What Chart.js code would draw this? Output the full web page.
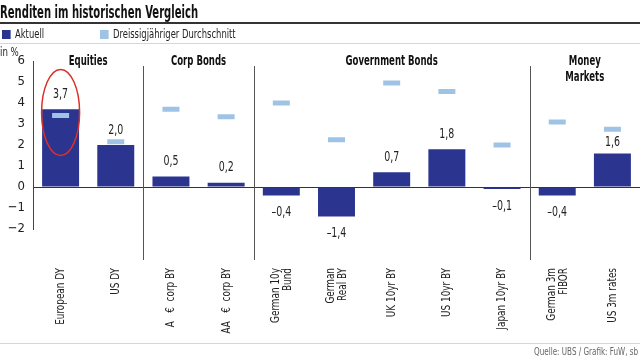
<!DOCTYPE html>
<html>
<head>
<meta charset="utf-8">
<script src="https://cdn.jsdelivr.net/npm/chart.js@4.4.1/dist/chart.umd.min.js"></script>
<style>
  body { margin: 0; background: #fff; font-family: "Liberation Sans Narrow", "DejaVu Sans Condensed", "Open Sans", sans-serif; color: #222; }
  #wrap { position: relative; width: 640px; height: 360px; overflow: hidden; }
  #chart { position: absolute; left: 0; top: 0; }
  .cond { position: absolute; white-space: nowrap; transform-origin: 0 0; }
  .title { left: 0; top: 1px; font-size: 18px; font-weight: bold; color: #111; transform: scaleX(0.62); }
  .rule1 { position: absolute; left: 0; top: 22px; width: 640px; height: 2px; background: #333; }
  .legend { top: 27px; font-size: 13px; color: #222; line-height: 14px; transform: scaleX(0.72); }
  .legend span.sw { display: inline-block; width: 12px; height: 9px; margin-right: 6px; vertical-align: -1px; }
  .rule2 { position: absolute; left: 0; top: 43px; width: 640px; height: 1px; background: #d6d6d6; }
  .unit { left: 0; top: 45px; font-size: 12px; transform: scaleX(0.8); }
  .rule3 { position: absolute; left: 0; top: 343px; width: 640px; height: 1px; background: #d6d6d6; }
  .source { right: 2px; top: 346px; font-size: 10px; color: #666; transform: scaleX(0.8); transform-origin: 100% 0; }
</style>
</head>
<body>
<div id="wrap">
  <canvas id="chart" width="640" height="360"></canvas>
  <div class="cond title">Renditen im historischen Vergleich</div>
  <div class="rule1"></div>
  <div class="cond legend" style="left:2px"><span class="sw" style="background:#2b3590"></span>Aktuell</div>
  <div class="cond legend" style="left:100px"><span class="sw" style="background:#9fc3e5"></span>Dreissigjähriger Durchschnitt</div>
  <div class="rule2"></div>
  <div class="cond unit">in %</div>
  <div class="rule3"></div>
  <div class="cond source">Quelle: UBS / Grafik: FuW, sb</div>
</div>
<script>
// Data
const categories = [
  'European DY', 'US DY', 'A   €  corp BY', 'AA   €  corp BY', ['German 10y', 'Bund'],
  ['German', 'Real BY'], 'UK 10yr BY', 'US 10yr BY', 'Japan 10yr BY', ['German 3m', 'FIBOR'], 'US 3m rates'
];
const current = [3.7, 2.0, 0.5, 0.2, -0.4, -1.4, 0.7, 1.8, -0.1, -0.4, 1.6];
const average30y = [3.4, 2.15, 3.7, 3.35, 4.0, 2.25, 4.95, 4.55, 2.0, 3.1, 2.75];
const yTicks = [-2, -1, 0, 1, 2, 3, 4, 5, 6];
const groups = [
  { name: ['Equities'], from: 0, to: 1 },
  { name: ['Corp Bonds'], from: 2, to: 3 },
  { name: ['Government Bonds'], from: 4, to: 8 },
  { name: ['Money', 'Markets'], from: 9, to: 10 }
];
const highlightIndex = 0;

const FONT = '"Liberation Sans Narrow", "DejaVu Sans Condensed", "Open Sans", sans-serif';
const fmt = v => (v < 0 ? '–' : '') + Math.abs(v).toFixed(1).replace('.', ',');

// text squeezed horizontally, like the condensed font of the original
function condText(ctx, text, x, y, sx, rot) {
  ctx.save();
  ctx.translate(x, y);
  if (rot) ctx.rotate(rot);
  ctx.scale(sx, 1);
  ctx.fillText(text, 0, 0);
  ctx.restore();
}

// separators, group headers, value labels, category labels, red ellipse
const decorations = {
  id: 'decorations',
  afterDatasetsDraw(chart) {
    const ctx = chart.ctx;
    const x = chart.scales.x, y = chart.scales.y;
    ctx.save();

    // group separators
    ctx.strokeStyle = '#555';
    ctx.lineWidth = 1;
    groups.slice(0, -1).forEach(g => {
      const px = Math.round((x.getPixelForValue(g.to) + x.getPixelForValue(g.to + 1)) / 2) + 0.5;
      ctx.beginPath();
      ctx.moveTo(px, 66);
      ctx.lineTo(px, 260);
      ctx.stroke();
    });

    // group headers
    ctx.fillStyle = '#111';
    ctx.font = 'bold 14px ' + FONT;
    ctx.textAlign = 'center';
    ctx.textBaseline = 'middle';
    groups.forEach(g => {
      const cx = (x.getPixelForValue(g.from) + x.getPixelForValue(g.to)) / 2;
      g.name.forEach((line, i) => condText(ctx, line, cx, 61 + i * 16, 0.68));
    });

    // value labels (moved under the average dash when they would collide)
    ctx.font = '14px ' + FONT;
    ctx.fillStyle = '#222';
    const meta = chart.getDatasetMeta(0);
    meta.data.forEach((bar, i) => {
      const v = current[i];
      let py = v >= 0 ? bar.y - 15 : bar.y + 17;
      const dashY = y.getPixelForValue(average30y[i]);
      if (v >= 0 && Math.abs(py - dashY) < 10) py = dashY + 13;
      condText(ctx, fmt(v), bar.x, py, 0.75);
    });

    // category labels, rotated, reading upwards
    ctx.font = '13px ' + FONT;
    ctx.textAlign = 'right';
    categories.forEach((lab, i) => {
      const lines = Array.isArray(lab) ? lab : [lab];
      const cx = x.getPixelForValue(i);
      lines.forEach((line, j) => {
        const off = (j - (lines.length - 1) / 2) * 12;
        condText(ctx, line, cx + off, 268, 0.76, -Math.PI / 2);
      });
    });

    // red highlight ellipse
    const ex = x.getPixelForValue(highlightIndex);
    const ey = y.getPixelForValue((current[highlightIndex] + average30y[highlightIndex]) / 2);
    ctx.strokeStyle = '#d8312b';
    ctx.lineWidth = 1.5;
    ctx.beginPath();
    ctx.ellipse(ex, ey, 19, 43, 0, 0, Math.PI * 2);
    ctx.stroke();

    ctx.restore();
  }
};

new Chart(document.getElementById('chart'), {
  type: 'bar',
  data: {
    labels: categories,
    datasets: [{
      label: 'Aktuell',
      data: current,
      backgroundColor: '#2b3590',
      barPercentage: 0.67,
      categoryPercentage: 1,
      order: 1
    }, {
      type: 'line',
      label: 'Dreissigjähriger Durchschnitt',
      data: average30y,
      showLine: false,
      pointStyle: 'line',
      pointRadius: 8.5,
      pointHoverRadius: 8.5,
      borderWidth: 5,
      pointBorderWidth: 5,
      borderColor: '#9fc3e5',
      pointBorderColor: '#9fc3e5',
      order: 0
    }]
  },
  options: {
    responsive: false,
    animation: false,
    layout: { autoPadding: false, padding: { top: 61, left: 0, right: 0, bottom: 0 } },
    plugins: {
      legend: { display: false },
      tooltip: { enabled: false }
    },
    scales: {
      x: {
        grid: { display: false },
        border: { display: false },
        afterFit: s => { s.height = 131; },
        ticks: { display: false }
      },
      y: {
        min: -2,
        max: 6,
        afterFit: s => { s.width = 33; },
        afterBuildTicks: s => { s.ticks = yTicks.map(v => ({ value: v })); },
        border: { display: true, color: '#444', width: 1 },
        grid: {
          drawTicks: false,
          color: c => (c.tick && c.tick.value === 0 ? '#333' : 'rgba(0,0,0,0)'),
          lineWidth: 1
        },
        ticks: {
          padding: 8,
          color: '#222',
          font: { family: FONT, size: 13 },
          callback: v => String(v).replace('-', '−')
        }
      }
    }
  },
  plugins: [decorations]
});
</script>
</body>
</html>
